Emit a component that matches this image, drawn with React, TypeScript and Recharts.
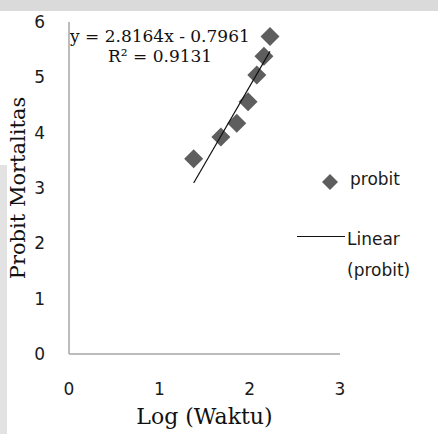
import React from 'react';
import {
  ScatterChart,
  Scatter,
  XAxis,
  YAxis,
  Legend,
} from 'recharts';

// log(waktu) vs probit mortalitas
const logWaktu = [1.38, 1.681, 1.857, 1.982, 2.079, 2.158, 2.225];
const probit = [3.53, 3.92, 4.17, 4.56, 5.04, 5.38, 5.74];

// linear trendline end points (y = 2.8164x - 0.7961)
const trendX = [1.38, 2.225];
const trendY = [3.09, 5.47];

const xTicks = [0, 1, 2, 3];
const yTicks = [0, 1, 2, 3, 4, 5, 6];

const equation = 'y = 2.8164x - 0.7961';
const rSquared = 'R² = 0.9131';

const points = logWaktu.map((x, i) => ({ x, y: probit[i] }));
const trend = trendX.map((x, i) => ({ x, y: trendY[i] }));

const MARKER = '#5e5e5e';
const AXIS = '#a6a6a6';
const sans = '"DejaVu Sans", sans-serif';
const serif = '"DejaVu Serif", serif';

const Diamond = (props: any) => {
  const { cx, cy } = props;
  if (cx == null || cy == null) return null;
  const r = 9.5;
  return (
    <polygon
      points={`${cx},${cy - r} ${cx + r},${cy} ${cx},${cy + r} ${cx - r},${cy}`}
      fill={MARKER}
    />
  );
};

function LegendBox() {
  return (
    <div style={{ position: 'relative', width: 140, height: 120, fontFamily: sans, fontSize: 17, color: '#1a1a1a' }}>
      <svg width={20} height={20} style={{ position: 'absolute', left: 30, top: 7 }}>
        <polygon points="10,2 18,10 10,18 2,10" fill={MARKER} />
      </svg>
      <div style={{ position: 'absolute', left: 60, top: 4 }}>probit</div>
      <div style={{ position: 'absolute', left: 7, top: 71, width: 48, borderTop: '1.3px solid #111' }} />
      <div style={{ position: 'absolute', left: 57, top: 59, lineHeight: '31px' }}>
        Linear
        <br />
        (probit)
      </div>
    </div>
  );
}

export default function App() {
  return (
    <div style={{ position: 'absolute', left: 0, top: 0, width: 438, height: 434, background: '#fff', overflow: 'hidden' }}>
      {/* faint watermark edges of the scanned page */}
      <div style={{ position: 'absolute', left: 0, top: 0, width: 438, height: 11, background: '#dadada' }} />
      <div style={{ position: 'absolute', left: 0, top: 165, width: 7, height: 269, background: '#e2e2e2' }} />
      <ScatterChart width={438} height={434} margin={{ top: 22, right: 98, bottom: 0, left: 0 }}>
        <XAxis
          type="number"
          dataKey="x"
          domain={[0, 3]}
          ticks={xTicks}
          height={80}
          tickLine={false}
          tickSize={0}
          tickMargin={29}
          axisLine={{ stroke: AXIS, strokeWidth: 1.5 }}
          tick={{ fontSize: 17, fontFamily: sans, fill: '#1a1a1a' }}
          label={{
            value: 'Log (Waktu)',
            position: 'insideBottom',
            offset: 10,
            style: { fontSize: 22, fontFamily: serif, fill: '#111' },
          }}
        />
        <YAxis
          type="number"
          dataKey="y"
          domain={[0, 6]}
          ticks={yTicks}
          width={69}
          tickLine={false}
          tickSize={0}
          tickMargin={24}
          axisLine={{ stroke: AXIS, strokeWidth: 1.5 }}
          tick={{ fontSize: 17, fontFamily: sans, fill: '#1a1a1a' }}
          label={{
            value: 'Probit Mortalitas',
            angle: -90,
            position: 'insideLeft',
            offset: 18,
            style: { textAnchor: 'middle', fontSize: 21, fontFamily: serif, fill: '#111' },
          }}
        />
        <Scatter
          name="probit"
          data={points}
          shape={Diamond}
          isAnimationActive={false}
        />
        <Scatter
          name="Linear (probit)"
          data={trend}
          line={{ stroke: '#111', strokeWidth: 1.2 }}
          shape={() => null}
          isAnimationActive={false}
        />
        <Legend
          layout="horizontal"
          align="center"
          verticalAlign="middle"
          wrapperStyle={{ position: 'absolute', left: 290, top: 165, width: 140 }}
          content={() => <LegendBox />}
        />
      </ScatterChart>
      <div style={{ position: 'absolute', left: 70, top: 26, fontFamily: serif, fontSize: 17, color: '#111', whiteSpace: 'nowrap' }}>
        {equation}
      </div>
      <div style={{ position: 'absolute', left: 108, top: 46, fontFamily: serif, fontSize: 17, color: '#111', whiteSpace: 'nowrap' }}>
        {rSquared}
      </div>
    </div>
  );
}
